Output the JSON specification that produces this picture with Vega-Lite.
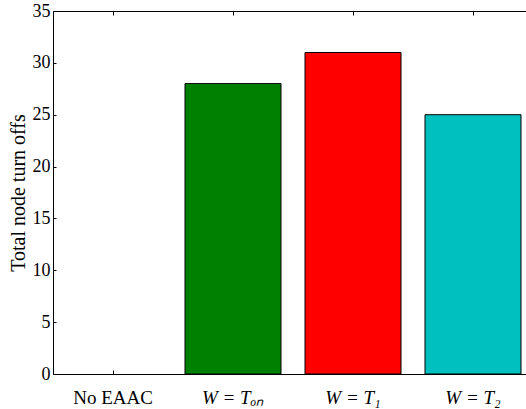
{
  "$schema": "https://vega.github.io/schema/vega-lite/v6.json",
  "autosize": "none",
  "width": 473,
  "height": 363,
  "padding": {"left": 53, "top": 11, "right": 0, "bottom": 35},
  "background": "white",
  "config": {
    "view": {"stroke": null},
    "font": "Liberation Serif",
    "axis": {"grid": false, "domainColor": "black", "tickColor": "black", "labelColor": "black", "titleColor": "black", "titleFontWeight": "normal"}
  },
  "data": {
    "values": [
      {"label": "No EAAC", "value": 0, "color": "#ffffff"},
      {"label": "W = Tₒₙ", "value": 28, "color": "#008000"},
      {"label": "W = T₁", "value": 31, "color": "#ff0000"},
      {"label": "W = T₂", "value": 25, "color": "#00bfbf"}
    ]
  },
  "layer": [
    {
      "mark": {"type": "bar", "stroke": "black", "strokeWidth": 1},
      "encoding": {
        "x": {
          "field": "label", "type": "nominal", "sort": null,
          "scale": {"range": [0, 480], "paddingInner": 0.2, "paddingOuter": 0.1},
          "axis": {
            "orient": "bottom", "title": null, "labelAngle": 0,
            "labelFont": "Liberation Serif",
            "labelFontSize": 19, "labelPadding": 18, "tickSize": -4,
            "labelFontStyle": {"condition": {"test": "datum.value == 'No EAAC'", "value": "normal"}, "value": "italic"}
          }
        },
        "y": {
          "field": "value", "type": "quantitative",
          "scale": {"domain": [0, 35], "nice": false},
          "axis": {
            "title": "Total node turn offs", "titleFont": "Liberation Serif", "titleFontSize": 20, "titlePadding": 4,
            "values": [0, 5, 10, 15, 20, 25, 30, 35],
            "labelFont": "Liberation Serif",
            "labelFontSize": 18, "labelPadding": 6, "tickSize": -3
          }
        },
        "fill": {"field": "color", "type": "nominal", "scale": null},
        "strokeOpacity": {"condition": {"test": "datum.value == 0", "value": 0}, "value": 1}
      }
    },
    {
      "mark": {"type": "point", "opacity": 0},
      "encoding": {
        "x": {
          "field": "label", "type": "nominal", "sort": null,
          "axis": {"orient": "top", "title": null, "labels": false, "tickSize": -4}
        }
      }
    }
  ],
  "resolve": {"axis": {"x": "independent"}}
}
